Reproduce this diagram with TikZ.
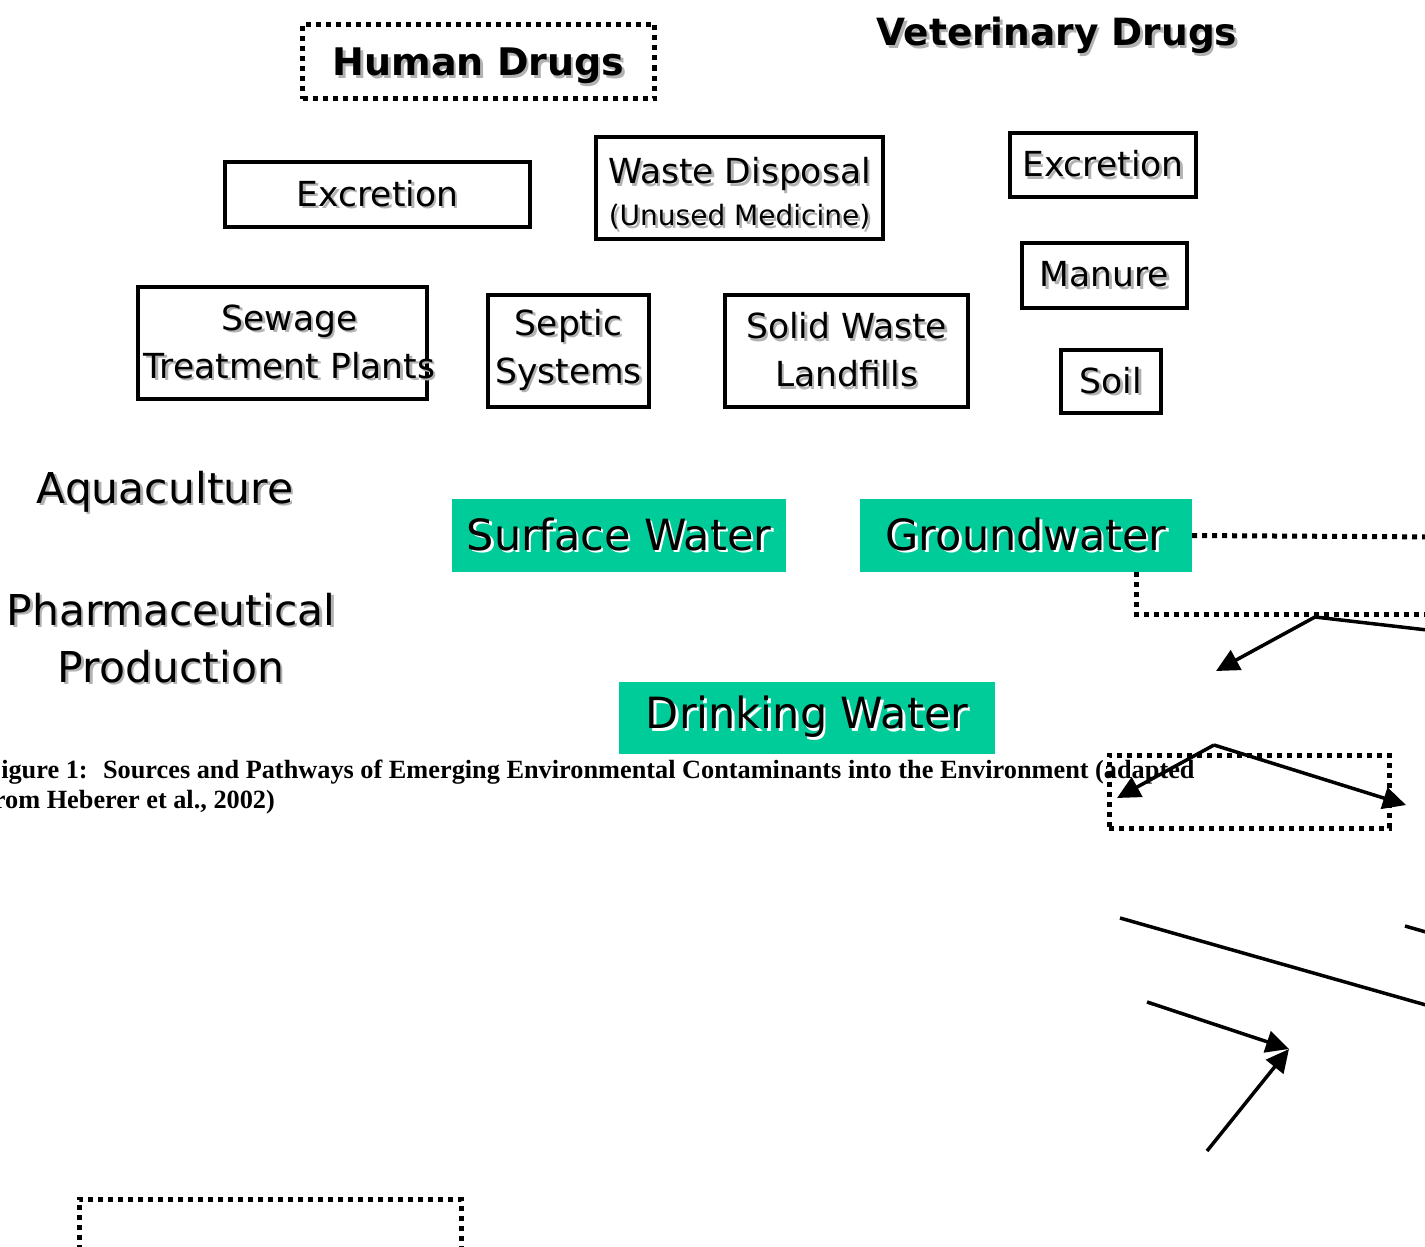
\documentclass[tikz,border=0pt]{standalone}
\usepackage{fontspec}
\setmainfont{DejaVu Sans}
\newfontfamily\captionserif{Liberation Serif}
\usetikzlibrary{arrows.meta}
\definecolor{waterteal}{RGB}{0,204,153}
\newcommand{\shadowed}[2][black!30]{\makebox[0pt][l]{\hspace{2.5pt}\raisebox{-2.5pt}{\textcolor{#1}{#2}}}#2}

\begin{document}
\begin{tikzpicture}
    [x=1pt,y=-1pt,
     srcbox/.style={shape=rectangle,draw=black,line width=4pt,inner sep=0pt,align=center,
       font=\fontsize{34.5}{48}\selectfont},
     dotbox/.style={shape=rectangle,draw=black,line width=5pt,dash pattern=on 5pt off 5pt,inner sep=0pt},
     dotline/.style={draw=black,line width=5pt,dash pattern=on 5pt off 5pt},
     water/.style={shape=rectangle,fill=waterteal,inner sep=0pt,font=\fontsize{43}{50}\selectfont},
     head/.style={inner sep=0pt,font=\bfseries\fontsize{38}{46}\selectfont},
     plain/.style={align=center,inner sep=0pt,font=\fontsize{42.5}{57}\selectfont},
     flow/.style={-{Triangle[length=23pt,width=22pt]},line width=3.5pt},
     link/.style={line width=3.5pt}]
  \clip (0,0) rectangle (1425,1247);
  % headings
  \node [dotbox,head,minimum width=352pt,minimum height=74pt,text height=37pt,text depth=9pt] (humandrugs) at (478.5,61.5) {\shadowed{Human Drugs}};
  \node [head,font=\bfseries\fontsize{37.5}{46}\selectfont] (vetdrugs) at (1057,37) {\shadowed{Veterinary Drugs}};
  % sources
  \node [srcbox,minimum width=305pt,minimum height=65pt] (hexcretion) at (377.5,194.5) {\shadowed{Excretion}};
  \node [srcbox,minimum width=287pt,minimum height=102pt] (disposal) at (739.5,188)
    {\rule{0pt}{40pt}\shadowed{Waste Disposal}\\[-6pt]{\fontsize{28}{34}\selectfont\shadowed{(Unused Medicine)}}};
  \node [srcbox,minimum width=186pt,minimum height=64pt] (vexcretion) at (1103,165) {\shadowed{Excretion}};
  \node [srcbox,minimum width=165pt,minimum height=65pt] (manure) at (1104.5,275.5) {\shadowed{Manure}};
  \node [srcbox,minimum width=100pt,minimum height=63pt] (soil) at (1111,381.5) {\shadowed{Soil}};
  \node [srcbox,minimum width=289pt,minimum height=112pt] (sewage) at (282.5,343)
    {\makebox[250pt]{\hspace*{14pt}\shadowed{Sewage}}\\\makebox[250pt]{\hspace*{14pt}\shadowed{Treatment Plants}}};
  \node [srcbox,minimum width=161pt,minimum height=112pt] (septic) at (568.5,351)
    {\shadowed{Septic}\\\shadowed{Systems}};
  \node [srcbox,minimum width=243pt,minimum height=112pt] (landfill) at (846.5,351)
    {\shadowed{Solid Waste}\\\shadowed{Landfills}};
  \node [plain] (aqua) at (165,493) {\shadowed{Aquaculture}};
  \node [plain] (pharma) at (171,639) {\shadowed{Pharmaceutical}\\\shadowed{Production}};
  % waters
  \node [water,minimum width=334pt,minimum height=73pt] (surface) at (619,535.5) {\shadowed[white]{Surface Water}};
  \node [water,minimum width=332pt,minimum height=73pt] (ground) at (1026,535.5) {\shadowed[white]{Groundwater}};
  \node [water,minimum width=376pt,minimum height=72pt] (drinking) at (807,718) {\shadowed[white]{Drinking Water}};
  % caption
  \node [anchor=west,align=left,inner sep=0pt,font=\captionserif\bfseries\fontsize{26.3}{30}\selectfont] (caption) at (-15,787.5)
    {Figure 1:~ Sources and Pathways of Emerging Environmental Contaminants into the Environment (adapted\\from Heberer et al., 2002)};
  % dotted frames
  \node [dotbox,minimum width=280pt,minimum height=73pt] (tgtbox) at (1249,791.5) {};
  \node [dotbox,minimum width=382pt,minimum height=120pt] (lowbox) at (270,1259) {};
  % connectors
  \coordinate (gwtail) at (1440,537);
  \coordinate (gwbend) at (1136,614);
  \coordinate (gwend) at (1440,614);
  \coordinate (hubA) at (1315,617);
  \coordinate (tipA) at (1216,671);
  \coordinate (endA) at (1440,631.5);
  \coordinate (hubB) at (1214,745);
  \coordinate (tipBl) at (1117,798);
  \coordinate (tipBr) at (1406,805);
  \coordinate (lineCs) at (1120,918);
  \coordinate (lineCe) at (1440,1009);
  \coordinate (lineDs) at (1405,926);
  \coordinate (lineDe) at (1440,936);
  \coordinate (srcE) at (1147,1002);
  \coordinate (srcF) at (1207,1151);
  \coordinate (meet) at (1289,1049);
  \draw [dotline] (ground.east) -- (gwtail);
  \draw [dotline] (ground.south -| gwbend) -- (gwbend) -- (gwend);
  \draw [flow] (hubA) -- (tipA);
  \draw [link] (hubA) -- (endA);
  \draw [flow] (hubB) -- (tipBl);
  \draw [flow] (hubB) -- (tipBr);
  \draw [link] (lineCs) -- (lineCe);
  \draw [link] (lineDs) -- (lineDe);
  \draw [flow] (srcE) -- (meet);
  \draw [flow] (srcF) -- (meet);
\end{tikzpicture}
\end{document}
